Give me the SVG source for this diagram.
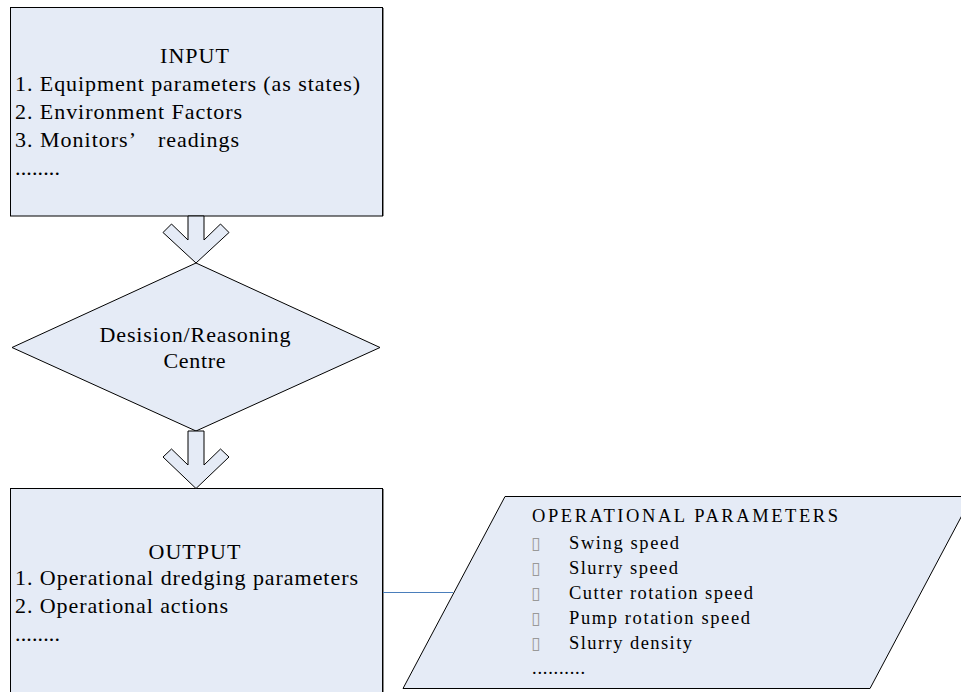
<svg xmlns="http://www.w3.org/2000/svg" width="961" height="692" viewBox="0 0 961 692">
<style>
.shape{fill:#e5ebf6;stroke:#000;stroke-width:1}
.t{font-family:"Liberation Serif","Times New Roman",serif;font-size:22px;fill:#000}
.p{font-family:"Liberation Serif","Times New Roman",serif;font-size:18.5px;fill:#000}
.b{font-family:"DejaVu Sans",sans-serif;font-size:17px;fill:#999}
.conn{stroke:#4a7ebb;stroke-width:1;fill:none}
</style>
<rect width="961" height="692" fill="#fff"/>
<g id="input">
<rect class="shape" x="10.5" y="7.5" width="372" height="208.5"/>
<line x1="383.5" y1="8" x2="383.5" y2="216" stroke="#888" stroke-width="1"/>
<text class="t" x="160" y="63" textLength="69" lengthAdjust="spacing">INPUT</text>
<text class="t" x="15" y="91" textLength="345" lengthAdjust="spacing">1. Equipment parameters (as states)</text>
<text class="t" x="15" y="118.5" textLength="227" lengthAdjust="spacing">2. Environment Factors</text>
<text class="t" x="15" y="146.5"><tspan textLength="121" lengthAdjust="spacing">3. Monitors’</tspan><tspan x="158" textLength="81" lengthAdjust="spacing">readings</tspan></text>
<text class="t" x="15" y="175" textLength="45" lengthAdjust="spacing">........</text>
</g>
<g id="decision">
<polygon class="shape" points="196,263 380,347.5 196,431 12,347.5"/>
<text class="t" x="99.5" y="341.5" textLength="191" lengthAdjust="spacing">Desision/Reasoning</text>
<text class="t" x="163.5" y="367.5" textLength="62" lengthAdjust="spacing">Centre</text>
</g>
<g id="output">
<rect class="shape" x="10.5" y="488.5" width="372" height="210"/>
<line x1="383.5" y1="489" x2="383.5" y2="692" stroke="#888" stroke-width="1"/>
<text class="t" x="148.5" y="558.5" textLength="92" lengthAdjust="spacing">OUTPUT</text>
<text class="t" x="15" y="585" textLength="343" lengthAdjust="spacing">1. Operational dredging parameters</text>
<text class="t" x="15" y="612.5" textLength="213" lengthAdjust="spacing">2. Operational actions</text>
<text class="t" x="15" y="641" textLength="45" lengthAdjust="spacing">........</text>
</g>
<g id="parameters">
<polygon class="shape" points="505,496.5 972,496.5 870,688.5 403,688.5"/>
<text class="p" x="532" y="522" textLength="306" lengthAdjust="spacing">OPERATIONAL PARAMETERS</text>
<text class="b" x="531" y="549">▯</text>
<text class="b" x="531" y="574">▯</text>
<text class="b" x="531" y="599">▯</text>
<text class="b" x="531" y="624">▯</text>
<text class="b" x="531" y="649">▯</text>
<text class="p" x="569" y="548.5" textLength="110" lengthAdjust="spacing">Swing speed</text>
<text class="p" x="569" y="573.5" textLength="109" lengthAdjust="spacing">Slurry speed</text>
<text class="p" x="569" y="598.5" textLength="184" lengthAdjust="spacing">Cutter rotation speed</text>
<text class="p" x="569" y="623.5" textLength="181" lengthAdjust="spacing">Pump rotation speed</text>
<text class="p" x="569" y="648.5" textLength="123" lengthAdjust="spacing">Slurry density</text>
<text class="p" x="532" y="674" textLength="53" lengthAdjust="spacing">..........</text>
</g>
<g id="connectors">
<polygon class="shape" points="188,216 204,216 204,240 220.5,224 229,232.5 196,263 163,232.5 171.5,224 188,240"/>
<polygon class="shape" points="188,431 204,431 204,465 220.5,449 229,457 196,488.5 163,457 171.5,449 188,465"/>
<line class="conn" x1="383" y1="592.5" x2="453" y2="592.5"/>
</g>
</svg>
